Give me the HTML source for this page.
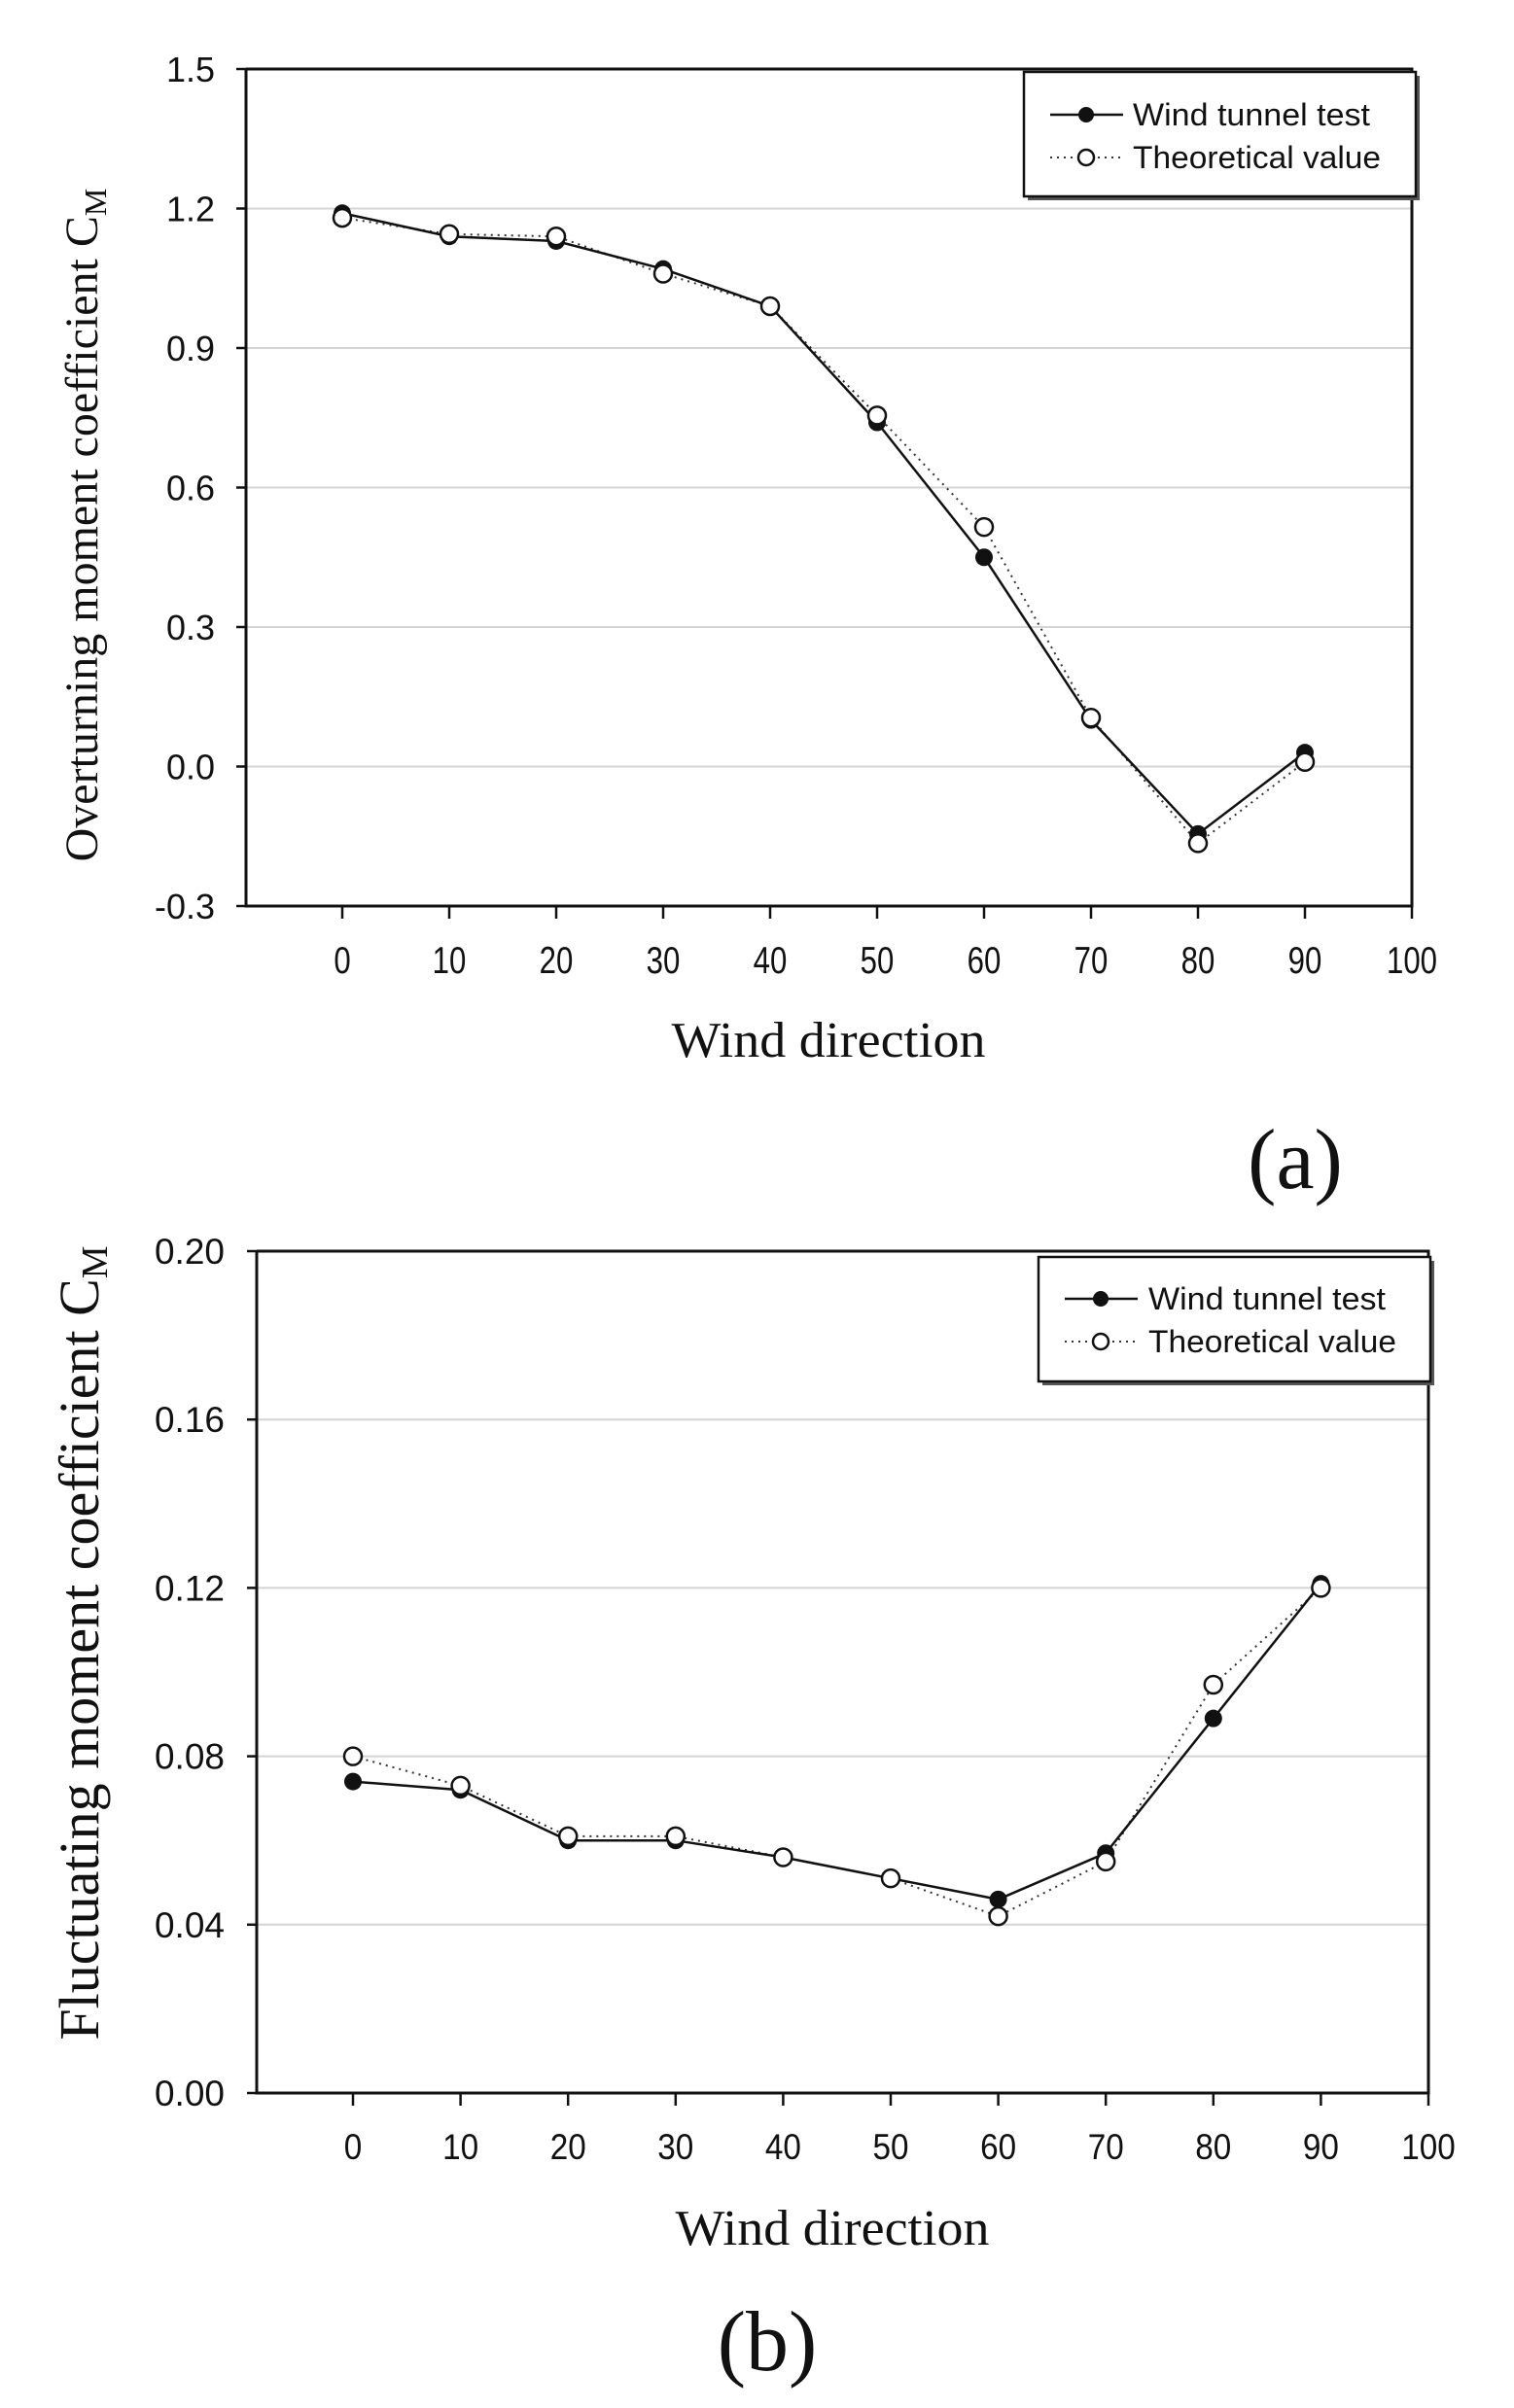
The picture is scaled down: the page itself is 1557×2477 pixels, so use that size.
<!DOCTYPE html>
<html><head><meta charset="utf-8"><style>
body{margin:0;background:#fff;}
svg{display:block;}
text{font-family:"Liberation Sans",sans-serif;fill:#111;}
.serif{font-family:"Liberation Serif",serif;}
</style></head><body>
<svg id="fig" width="1557" height="2477" viewBox="0 0 1557 2477" xmlns="http://www.w3.org/2000/svg"></svg>
<script>
const categories = [0,10,20,30,40,50,60,70,80,90];
const xTicks = [0,10,20,30,40,50,60,70,80,90,100];
const windA = [1.19,1.14,1.13,1.07,0.99,0.74,0.45,0.10,-0.145,0.03];
const theoryA = [1.18,1.145,1.14,1.06,0.99,0.755,0.515,0.105,-0.165,0.01];
const yTicksA = [-0.3,0.0,0.3,0.6,0.9,1.2,1.5];
const yLabelsA = ["-0.3","0.0","0.3","0.6","0.9","1.2","1.5"];
const windB = [0.074,0.072,0.060,0.060,0.056,0.051,0.046,0.057,0.089,0.121];
const theoryB = [0.080,0.073,0.061,0.061,0.056,0.051,0.042,0.055,0.097,0.120];
const yTicksB = [0,0.04,0.08,0.12,0.16,0.20];
const yLabelsB = ["0.00","0.04","0.08","0.12","0.16","0.20"];

const NS="http://www.w3.org/2000/svg";
const svg=document.getElementById('fig');
function mk(tag,attrs,parent,txt){const e=document.createElementNS(NS,tag);for(const k in attrs)e.setAttribute(k,attrs[k]);if(txt!==undefined)e.textContent=txt;(parent||svg).appendChild(e);return e;}

function chart(cfg){
  const g=mk('g',{});
  
  
  const sx=v=>cfg.x0+(v)*(cfg.x100-cfg.x0)/100;
  const sy=v=>cfg.bottom-(v-cfg.ymin)*(cfg.bottom-cfg.top)/(cfg.ymax-cfg.ymin);
  cfg.yticks.forEach((t,i)=>{
    const y=sy(t);
    if(i>0&&i<cfg.yticks.length-1){
      const gl=mk('line',{x1:cfg.left,x2:cfg.x100,y1:y,y2:y,stroke:'#d4d4d4','stroke-width':2},g);
      
      
    }
    const tk=mk('line',{x1:cfg.left-10,x2:cfg.left,y1:y,y2:y,stroke:'#111','stroke-width':2.5},g);
    
    
    const tl=mk('text',{x:cfg.ylabX,y:y+13,'text-anchor':'end','font-size':cfg.yfs},g,cfg.ylabels[i]);
    
    
  });
  xTicks.forEach(t=>{
    const x=sx(t);
    const tk=mk('line',{x1:x,x2:x,y1:cfg.bottom,y2:cfg.bottom+13,stroke:'#111','stroke-width':2.5},g);
    
    
    const tl=mk('text',{transform:`translate(${x},${cfg.xlabY}) scale(${cfg.xsc},1)`,'text-anchor':'middle','font-size':cfg.xfs},g,String(t));
    
    
  });
  const ax=mk('path',{d:`M${cfg.left} ${cfg.top} V${cfg.bottom} H${cfg.x100} V${cfg.top} H${cfg.left}`,fill:'none',stroke:'#111','stroke-width':3},g);
  
  
  const pt=(arr)=>arr.map((v,i)=>sx(categories[i])+','+sy(v)).join(' ');
  const lt=mk('polyline',{points:pt(cfg.theory),fill:'none',stroke:'#333','stroke-width':2,'stroke-dasharray':'2 5'},g);
  
  
  const lw=mk('polyline',{points:pt(cfg.wind),fill:'none',stroke:'#111','stroke-width':2.5},g);
  
  
  cfg.wind.forEach((v,i)=>{
    const c=mk('circle',{cx:sx(categories[i]),cy:sy(v),r:9,fill:'#111'},g);
    
    
  });
  cfg.theory.forEach((v,i)=>{
    const c=mk('circle',{cx:sx(categories[i]),cy:sy(v),r:9,fill:'#fff',stroke:'#111','stroke-width':2.5},g);
    
    
  });
  const L=cfg.leg;
  const lg=mk('g',{},g);
  
  
  mk('rect',{x:L.x+4,y:L.y+4,width:L.w,height:L.h,fill:'#555'},lg);
  mk('rect',{x:L.x,y:L.y,width:L.w,height:L.h,fill:'#fff',stroke:'#111','stroke-width':2.5},lg);
  mk('line',{x1:L.x+27,x2:L.x+102,y1:L.r1,y2:L.r1,stroke:'#111','stroke-width':2.5},lg);
  mk('circle',{cx:L.x+64,cy:L.r1,r:8,fill:'#111'},lg);
  const e1=mk('text',{x:L.x+L.tx,y:L.r1+11,'font-size':32,textLength:244,lengthAdjust:'spacingAndGlyphs'},lg,'Wind tunnel test');
  
  
  mk('line',{x1:L.x+27,x2:L.x+102,y1:L.r2,y2:L.r2,stroke:'#333','stroke-width':2,'stroke-dasharray':'2 5'},lg);
  mk('circle',{cx:L.x+64,cy:L.r2,r:8,fill:'#fff',stroke:'#111','stroke-width':2.5},lg);
  const e2=mk('text',{x:L.x+L.tx,y:L.r2+11,'font-size':32,textLength:255,lengthAdjust:'spacingAndGlyphs'},lg,'Theoretical value');
  
  
  const xt=mk('text',{x:cfg.xtX,y:cfg.xtY,'text-anchor':'middle','font-size':52,class:'serif',textLength:323,lengthAdjust:'spacingAndGlyphs'},g,'Wind direction');
  
  
  const yt=mk('text',{transform:`translate(${cfg.ytX},${cfg.ytY}) rotate(-90)`,'text-anchor':'middle','font-size':cfg.ytfs,class:'serif'},g);
  
  
  mk('tspan',{},yt,cfg.ytitle+' C');
  mk('tspan',{'font-size':Math.round(cfg.ytfs*0.66),dy:9},yt,'M');
}

chart({name:'chart-a',left:253,top:71,bottom:932,x0:352,x100:1452,ymin:-0.3,ymax:1.5,yticks:yTicksA,ylabels:yLabelsA,
  wind:windA,theory:theoryA,ylabX:221,yfs:36,xlabY:1001,xfs:39,xsc:0.8,xtX:852,xtY:1087,ytX:100,ytY:540,ytfs:48,ytitle:'Overturning moment coefficient',
  leg:{x:1053,y:74,w:403,h:128,r1:118,r2:162,tx:112}});
chart({name:'chart-b',left:264,top:1287,bottom:2153,x0:363,x100:1469,ymin:0,ymax:0.2,yticks:yTicksB,ylabels:yLabelsB,
  wind:windB,theory:theoryB,ylabX:231,yfs:37,xlabY:2221,xfs:37,xsc:0.9,xtX:856,xtY:2309,ytX:101,ytY:1690,ytfs:58,ytitle:'Fluctuating moment coefficient',
  leg:{x:1068,y:1293,w:403,h:128,r1:1336,r2:1380,tx:113}});

const la=mk('text',{x:1332,y:1222,'text-anchor':'middle','font-size':88,class:'serif'},svg,'(a)');


const lb=mk('text',{x:789,y:2438,'text-anchor':'middle','font-size':88,class:'serif'},svg,'(b)');


</script>
</body></html>
